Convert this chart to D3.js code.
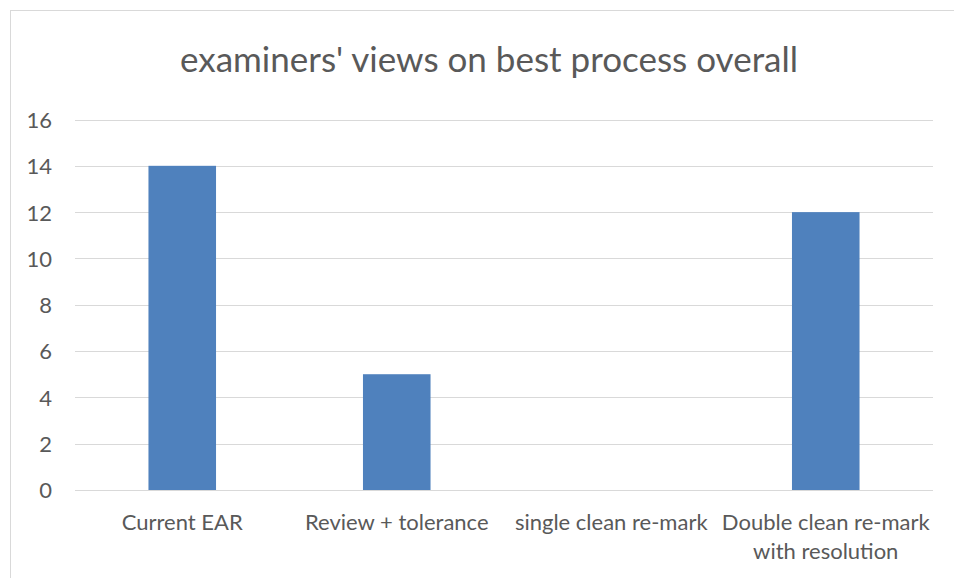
<!DOCTYPE html>
<html>
<head>
<meta charset="utf-8">
<script src="https://cdn.jsdelivr.net/npm/d3@7"></script>
<style>
  html, body { margin: 0; padding: 0; background: #fff; }
  svg { display: block; }
  text { font-family: Lato, "Open Sans", sans-serif; fill: #595959; }
</style>
</head>
<body>
<svg id="chart" width="954" height="578"></svg>
<script>
// Survey counts per marking process
const categories = ["Current EAR", "Review + tolerance", "single clean re-mark", "Double clean re-mark with resolution"];
const values = [14, 5, 0, 12];
const yTicks = [0, 2, 4, 6, 8, 10, 12, 14, 16];
const title = "examiners' views on best process overall";

const svg = d3.select("#chart");
const FONT = "Lato, sans-serif";
const LABEL_SIZE = 22;

// outer chart frame (extends past the right and bottom edges)
svg.append("rect")
  .attr("x", 10.5).attr("y", 10.5)
  .attr("width", 958).attr("height", 600)
  .attr("fill", "#fff").attr("stroke", "#D9D9D9").attr("stroke-width", 1);

const plot = { left: 75, right: 933, top: 119.5, bottom: 490 };

const x = d3.scaleBand()
  .domain(categories)
  .range([plot.left, plot.right])
  .paddingInner(0.685)
  .paddingOuter(0.3425);

const y = d3.scaleLinear().domain([0, 16]).range([plot.bottom, plot.top]);

// horizontal gridlines
svg.append("g")
  .selectAll("line")
  .data(yTicks)
  .join("line")
  .attr("x1", plot.left).attr("x2", plot.right)
  .attr("y1", d => Math.round(y(d)) + 0.5).attr("y2", d => Math.round(y(d)) + 0.5)
  .attr("stroke", "#D9D9D9").attr("stroke-width", 1.2);

// y axis labels
const yAxis = d3.axisLeft(y).tickValues(yTicks).tickSize(0).tickPadding(0);
const yg = svg.append("g").attr("transform", `translate(52,0)`).call(yAxis);
yg.select(".domain").remove();
yg.attr("font-size", null).attr("font-family", null);
yg.selectAll("text")
  .attr("font-size", LABEL_SIZE)
  .attr("font-family", FONT)
  .attr("fill", "#595959")
  .attr("dy", "0.36em");

// bars
svg.append("g")
  .selectAll("rect")
  .data(values)
  .join("rect")
  .attr("x", (d, i) => x(categories[i]))
  .attr("width", x.bandwidth())
  .attr("y", d => y(d))
  .attr("height", d => y(0) - y(d))
  .attr("fill", "#4F81BD");

// category labels, wrapped to the band width
const xAxis = d3.axisBottom(x).tickSize(0).tickPadding(0);
const xg = svg.append("g").attr("transform", `translate(0,${plot.bottom})`).call(xAxis);
xg.select(".domain").remove();
xg.attr("font-size", null).attr("font-family", null);
const bandStep = x.step();
xg.selectAll("text")
  .attr("font-size", LABEL_SIZE)
  .attr("font-family", FONT)
  .attr("fill", "#595959")
  .attr("y", 0)
  .attr("dy", null)
  .each(function(d) {
    const t = d3.select(this);
    const words = d.split(" ");
    t.text(null);
    let lines = [], line = [];
    const probe = t.append("tspan");
    for (const w of words) {
      line.push(w);
      probe.text(line.join(" "));
      if (probe.node().getComputedTextLength() > bandStep - 4 && line.length > 1) {
        line.pop();
        lines.push(line.join(" "));
        line = [w];
      }
    }
    lines.push(line.join(" "));
    probe.remove();
    lines.forEach((l, i) => {
      t.append("tspan").attr("x", 0).attr("y", 40 + i * 28.5).text(l);
    });
  });

// title
svg.append("text")
  .attr("x", 489).attr("y", 72)
  .attr("text-anchor", "middle")
  .attr("font-size", 35)
  .attr("font-family", FONT)
  .attr("fill", "#595959")
  .text(title);
</script>
</body>
</html>
